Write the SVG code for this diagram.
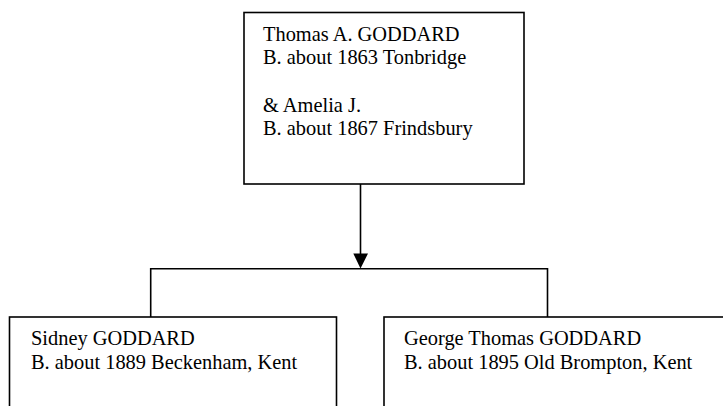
<svg xmlns="http://www.w3.org/2000/svg" width="723" height="406" viewBox="0 0 723 406">
<style>
.box{fill:#fff;stroke:#000;stroke-width:1.6}
.ln{fill:none;stroke:#000;stroke-width:1.6}
text{font-family:"Liberation Serif","Times New Roman",serif;font-size:20.4px;fill:#000}
</style>
<rect width="723" height="406" fill="#fff"/>
<g id="connectors">
<line class="ln" x1="360.5" y1="184" x2="360.5" y2="255"/>
<polygon points="353.3,253.5 368,253.5 360.5,268.5" fill="#000"/>
<polyline class="ln" points="150.7,317 150.7,268.7 547.5,268.7 547.5,317"/>
</g>
<g id="node-thomas">
<rect class="box" x="244" y="12.5" width="280" height="171.5"/>
<text x="263" y="40.5">Thomas A. GODDARD</text>
<text x="263" y="64">B. about 1863 Tonbridge</text>
<text x="263" y="111.5">&amp; Amelia J.</text>
<text x="263" y="135">B. about 1867 Frindsbury</text>
</g>
<g id="node-sidney">
<rect class="box" x="9.5" y="317" width="327" height="100"/>
<text x="31" y="345">Sidney GODDARD</text>
<text x="31" y="368.5">B. about 1889 Beckenham, Kent</text>
</g>
<g id="node-george">
<rect class="box" x="384" y="317" width="350" height="100"/>
<text x="404" y="345">George Thomas GODDARD</text>
<text x="404" y="368.5">B. about 1895 Old Brompton, Kent</text>
</g>
</svg>
